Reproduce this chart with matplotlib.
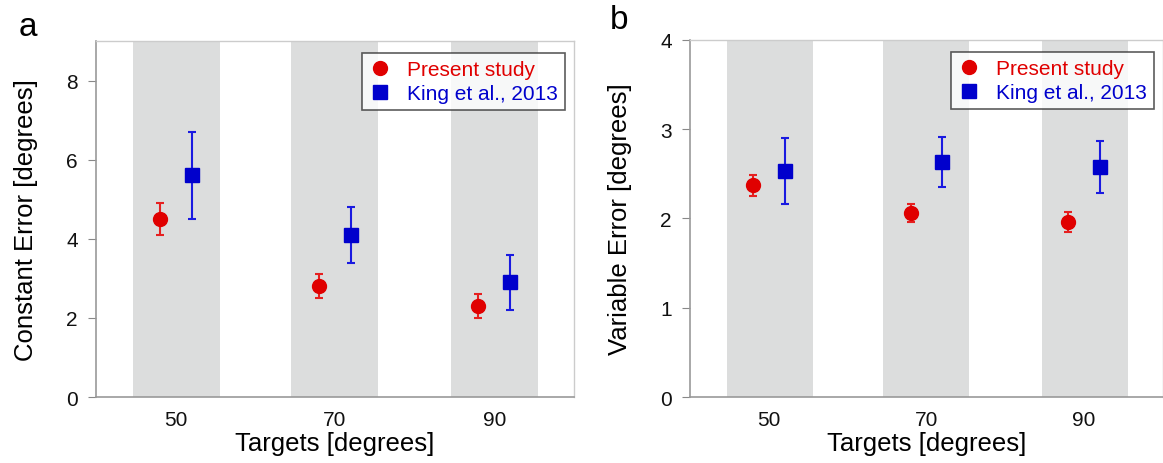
import matplotlib
matplotlib.use("Agg")
import matplotlib.pyplot as plt
from matplotlib.lines import Line2D

plt.rcParams['font.family'] = ['Liberation Sans', 'DejaVu Sans']

# data
present_x = [48, 68, 88]
king_x = [52, 72, 92]
target_ticks = [50, 70, 90]
bands = [(44.7, 55.6), (64.5, 75.4), (84.6, 95.5)]

ce_present = [4.5, 2.8, 2.3]
ce_present_err = [0.4, 0.3, 0.3]
ce_king = [5.6, 4.1, 2.9]
ce_king_err = [1.1, 0.7, 0.7]

ve_present = [2.37, 2.06, 1.96]
ve_present_err = [0.12, 0.10, 0.11]
ve_king = [2.53, 2.63, 2.58]
ve_king_err = [0.37, 0.28, 0.29]

labels = ['Present study', 'King et al., 2013']

RED = '#e00000'
BLUE = '#0000cc'
BAND = '#dcdddd'


def draw_panel(ax, pres, pres_err, king, king_err, ylim, yticks, ylabel):
    for lo, hi in bands:
        ax.axvspan(lo, hi, color=BAND, lw=0, zorder=0)
    ax.errorbar(present_x, pres, yerr=pres_err, fmt='o', color=RED, ecolor='#e62020',
                ms=10, capsize=3, elinewidth=1.5, capthick=1.5, zorder=3)
    ax.errorbar(king_x, king, yerr=king_err, fmt='s', color=BLUE, ecolor='#1a1ae0',
                ms=10, capsize=3, elinewidth=1.5, capthick=1.5, zorder=3)
    ax.set_xlim(40, 100)
    ax.set_ylim(*ylim)
    ax.set_xticks(target_ticks)
    ax.set_yticks(yticks)
    ax.tick_params(axis='x', length=0, labelsize=15, pad=9, labelcolor='#111111')
    ax.tick_params(axis='y', length=6, color='#888888', labelsize=15, pad=7,
                   direction='out', labelcolor='#111111')
    for side in ['left', 'bottom']:
        ax.spines[side].set_color('#999999')
        ax.spines[side].set_linewidth(1.2)
    for side in ['top', 'right']:
        ax.spines[side].set_color('#cccccc')
        ax.spines[side].set_linewidth(1.0)
    ax.set_xlabel('Targets [degrees]', fontsize=18.5, labelpad=2)
    ax.set_ylabel(ylabel, fontsize=18.5, labelpad=20)

    handles = [Line2D([], [], ls='none', marker='o', color=RED, ms=10),
               Line2D([], [], ls='none', marker='s', color=BLUE, ms=10)]
    leg = ax.legend(handles, labels, loc='upper right', fontsize=15, frameon=True,
                    fancybox=False, handlelength=1.0, handletextpad=0.8, borderpad=0.35,
                    labelspacing=0.25, borderaxespad=0.3, bbox_to_anchor=(0.995, 0.985))
    leg.get_frame().set_edgecolor('#333333')
    leg.get_frame().set_linewidth(1.2)
    for txt, col in zip(leg.get_texts(), [RED, BLUE]):
        txt.set_color(col)


fig = plt.figure(figsize=(11.63, 4.64), dpi=100)
ax1 = fig.add_axes([0.0825, 0.1422, 0.4111, 0.7673])
ax2 = fig.add_axes([0.5933, 0.1422, 0.4067, 0.7695])

draw_panel(ax1, ce_present, ce_present_err, ce_king, ce_king_err,
           (0, 9), [0, 2, 4, 6, 8], 'Constant Error [degrees]')
draw_panel(ax2, ve_present, ve_present_err, ve_king, ve_king_err,
           (0, 4), [0, 1, 2, 3, 4], 'Variable Error [degrees]')

fig.text(0.024, 0.94, 'a', fontsize=24, va='center', ha='center')
fig.text(0.532, 0.955, 'b', fontsize=24, va='center', ha='center')

fig.savefig('out.png', dpi=100)
